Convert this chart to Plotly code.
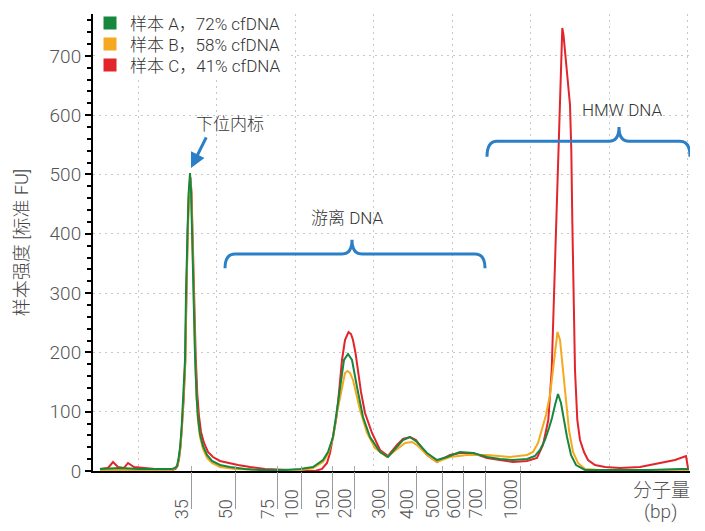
import plotly.graph_objects as go

# ---- data: migration position (run units) and intensity [FU] ----
a_x = [7, 27, 47, 67, 79, 82, 84, 85.3, 87, 88.7, 90.3, 92, 93, 94.3, 95.5, 97, 98, 99, 100.3, 102,
       103.5, 105, 107, 110, 114, 119, 127, 137, 152, 167, 192, 207, 220, 230, 235, 240, 244, 247, 251, 255,
       259, 264, 270, 277, 287, 295, 304, 310, 317, 324, 334, 344, 354, 367, 380, 394, 407, 420, 434, 442,
       447, 452, 456, 459, 462, 465, 468, 471, 474, 478, 483, 492, 507, 557, 587, 596]
a_y = [3.4, 5.1, 3.4, 3.4, 3.4, 5.1, 8.4, 18.5, 38.8, 74.2, 119.7, 187.2, 300.2, 411.5, 465.4, 502.5, 473.9, 406.4, 300.2, 195.6,
       128.2, 89.4, 62.4, 42.2, 27, 16.9, 10.1, 6.7, 3.4, 1.7, 1.7, 3.4, 6.7, 18.5, 32, 57.3, 102.9, 141.6, 187.2, 197.3,
       187.2, 141.6, 91.1, 57.3, 32, 23.6, 40.5, 52.3, 57.3, 48.9, 30.4, 18.5, 23.6, 32, 30.4, 23.6, 20.2, 18.5, 20.2, 25.3,
       35.4, 52.3, 72.5, 89.4, 111.3, 129.8, 114.7, 86, 57.3, 27, 10.1, 1.7, 1.7, 1.7, 3.4, 3.4]

b_x = [7, 47, 79, 82.5, 84.5, 86, 87.5, 89, 90.6, 92.3, 93.3, 94.6, 95.8, 97.3, 98.3, 99.3, 100.6, 102.2, 103.6, 105,
       107, 110, 114, 119, 127, 142, 167, 207, 220, 230, 235, 240, 244, 247, 250, 252, 254.5, 257, 260, 263,
       267, 274, 282, 294, 304, 312, 319, 324, 334, 344, 357, 374, 394, 417, 434, 440, 445, 449, 453, 457,
       460, 462, 464.5, 467, 470, 473, 476, 480, 485, 492, 507, 596]
b_y = [1.7, 1.7, 1.7, 5.1, 10.1, 21.9, 42.2, 74.2, 119.7, 187.2, 296.8, 406.4, 460.4, 495.8, 470.5, 403, 295.1, 190.5, 123.1, 84.3,
       57.3, 37.1, 21.9, 13.5, 6.7, 3.4, 1.7, 1.7, 5.1, 15.2, 28.7, 55.6, 97.8, 124.8, 153.5, 165.3, 168.6, 165.3, 153.5, 129.8,
       102.9, 64.1, 38.8, 23.6, 37.1, 47.2, 48.9, 43.8, 27, 15.2, 23.6, 27, 27, 23.6, 27, 32, 47.2, 69.1, 94.4, 128.2,
       170.3, 204, 234.4, 220.9, 170.3, 111.3, 69.1, 32, 13.5, 3.4, 1.7, 1.7]

c_x = [7, 15, 20, 25, 31, 35, 41, 50, 62, 79, 82.5, 84.5, 86, 87.5, 89, 90.6, 92.3, 93.3, 94.6, 95.8,
       97.3, 98.5, 99.5, 101, 102.7, 104.3, 106, 108, 111, 115, 120, 127, 135, 145, 157, 172, 197, 222, 229, 234,
       237, 240, 243, 245, 247, 249, 252, 255.5, 258, 260, 262.5, 265, 268, 272, 279, 287, 295, 304, 310, 317,
       323, 334, 344, 357, 367, 380, 394, 407, 420, 434, 444, 450, 453, 455.3, 458.7, 460.3, 463, 466.3, 468, 469.3,
       470.5, 472.5, 474.5, 477, 478.3, 479.3, 481, 482, 484.3, 487, 491, 495, 502, 512, 527, 547, 567, 582, 593, 595]
c_y = [3.4, 5.1, 15.2, 6.7, 5.1, 13.5, 6.7, 5.1, 3.4, 1.7, 3.4, 8.4, 20.2, 40.5, 72.5, 118, 183.8, 293.4, 403, 458.7,
       495.8, 470.5, 403, 295.1, 193.9, 129.8, 92.7, 65.8, 47.2, 32, 23.6, 16.9, 13.5, 10.1, 6.7, 3.4, 1.7, 0, 3.4, 13.5,
       30.4, 55.6, 86, 114.7, 153.5, 187.2, 220.9, 234.4, 231, 220.9, 199, 170.3, 133.2, 97.8, 64.1, 35.4, 25.3, 43.8, 54, 57.3,
       52.3, 27, 15.2, 27, 30.4, 30.4, 21.9, 18.5, 15.2, 16.9, 21.9, 43.8, 65.8, 86, 170.3, 254.6, 423.3, 591.9, 693, 747,
       735.2, 693, 662.7, 617.2, 541.3, 423.3, 254.6, 170.3, 86, 52.3, 32, 18.5, 10.1, 6.7, 5.1, 6.7, 13.5, 18.5, 25.3, 5.1]

series_names = ["样本 A，72% cfDNA", "样本 B，58% cfDNA", "样本 C，41% cfDNA"]
series_colors = ["#16873d", "#f5a91f", "#e2242b"]

bp_labels = ["35", "50", "75", "100", "150", "200", "300", "400", "500", "600", "700", "1000"]
bp_pos = [98.7, 142.7, 184.7, 208.7, 239.7, 261, 295.3, 323.7, 349.3, 370.3, 392, 427.7]

FONT = "Roboto, 'Noto Sans CJK SC', sans-serif"
BLUE = "#2a7fc6"
XR = [0, 597]

fig = go.Figure()
series = [(a_x, a_y), (b_x, b_y), (c_x, c_y)]
for i in [2, 1, 0]:
    fig.add_trace(go.Scatter(x=series[i][0], y=series[i][1], mode="lines",
                             line=dict(color=series_colors[i], width=2),
                             showlegend=False, hoverinfo="skip"))
axes_for_legend = ["x2", "x3", "x"]
legend_ids = ["legend", "legend2", "legend3"]
for i in range(3):
    fig.add_trace(go.Scatter(x=[None], y=[None], mode="markers", name=series_names[i],
                             xaxis=axes_for_legend[i], legend=legend_ids[i],
                             marker=dict(symbol="square", size=13, color=series_colors[i])))

# bp tick labels (rotated, offset left of their tick lines)
for pos, lab in zip(bp_pos, bp_labels):
    fig.add_annotation(x=pos, y=0, xref="x", yref="y", text=lab, showarrow=False,
                       textangle=-90, xanchor="center", yanchor="bottom",
                       xshift=-10.5, yshift=-50, font=dict(size=18, color="#555"))

# annotations
fig.add_annotation(x=137, y=585, xref="x", yref="y", text="下位内标", showarrow=False,
                   font=dict(size=17, color="#333"))
fig.add_annotation(x=98, y=511, xref="x", yref="y", text="", showarrow=True, arrowhead=2,
                   arrowsize=1, arrowwidth=3, arrowcolor=BLUE, ax=16, ay=-32, standoff=0)
fig.add_annotation(x=254, y=427, xref="x", yref="y", text="游离 DNA", showarrow=False,
                   font=dict(size=17, color="#333"))
fig.add_annotation(x=529, y=609, xref="x", yref="y", text="HMW DNA", showarrow=False,
                   font=dict(size=17, color="#333"))
fig.add_annotation(x=(661 - 93) / 597, y=(471 - 490) / 457, xref="paper", yref="paper",
                   xanchor="center", yanchor="middle",
                   text="分子量", showarrow=False, font=dict(size=19, color="#555"))
fig.add_annotation(x=(660 - 93) / 597, y=(471 - 511) / 457, xref="paper", yref="paper",
                   xanchor="center", yanchor="middle",
                   text="(bp)", showarrow=False, font=dict(size=19, color="#555"))

# braces
def brace(x0, x1, xm, y_end, y_line, y_tip, r=10):
    return (f"M {x0},{y_end} Q {x0},{y_line} {x0 + r},{y_line} L {xm - r},{y_line} "
            f"Q {xm},{y_line} {xm},{y_tip} Q {xm},{y_line} {xm + r},{y_line} "
            f"L {x1 - r},{y_line} Q {x1},{y_line} {x1},{y_end}")

fig.add_shape(type="path", xref="x", yref="y", path=brace(132, 392, 259, 342, 366, 390),
              line=dict(color=BLUE, width=3))
fig.add_shape(type="path", xref="x", yref="y", path=brace(394, 597, 526, 530, 556, 580),
              line=dict(color=BLUE, width=3))
# white backing box behind the legend entries
fig.add_shape(type="rect", xref="paper", yref="paper", x0=0.0067, x1=0.325, y0=0.862, y1=1.0,
              fillcolor="white", line=dict(width=0), layer="above")

legend_common = dict(x=-0.005, xanchor="left", yanchor="top", bgcolor="rgba(0,0,0,0)",
                     font=dict(size=17, color="#333"), borderwidth=0)

fig.update_layout(
    width=705, height=531,
    margin=dict(l=93, r=15, t=14, b=60, autoexpand=False),
    paper_bgcolor="white", plot_bgcolor="white",
    font=dict(family=FONT, color="#444", weight=300),
    showlegend=True,
    legend=dict(y=1.0186, **legend_common),
    legend2=dict(y=0.9726, **legend_common),
    legend3=dict(y=0.9267, **legend_common),
    xaxis=dict(range=XR, showline=True, linecolor="black", linewidth=2, ticks="",
               showticklabels=False, showgrid=True, gridcolor="#c8c8c8", griddash="2px,4px",
               tick0=45, dtick=78.5, zeroline=False, fixedrange=True),
    xaxis2=dict(range=XR, overlaying="x", anchor="y", side="bottom", tickvals=bp_pos,
                ticks="outside", ticklen=37, tickcolor="#9b9b9b", tickwidth=1.3,
                showticklabels=False, showgrid=False, showline=False, zeroline=False),
    xaxis3=dict(range=XR, overlaying="x", anchor="y", side="bottom", tickvals=bp_pos,
                ticks="inside", ticklen=5, tickcolor="#aaaaaa", tickwidth=1,
                showticklabels=False, showgrid=False, showline=False, zeroline=False),
    yaxis=dict(range=[0, 770.6], showline=True, linecolor="black", linewidth=2,
               ticks="outside", ticklen=6, tickwidth=1.5, tickcolor="black",
               tick0=0, dtick=100, showgrid=True, gridcolor="#c8c8c8", griddash="2px,4px",
               zeroline=False,
               minor=dict(ticks="outside", ticklen=4, tickcolor="black", dtick=20, showgrid=False),
               tickfont=dict(size=19, color="#555"),
               title=dict(text="样本强度 [标准 FU]", font=dict(size=18, color="#444"), standoff=16)),
)

fig.write_html("out.html", config={"displayModeBar": False},
               post_script="document.body.style.margin='0';")
